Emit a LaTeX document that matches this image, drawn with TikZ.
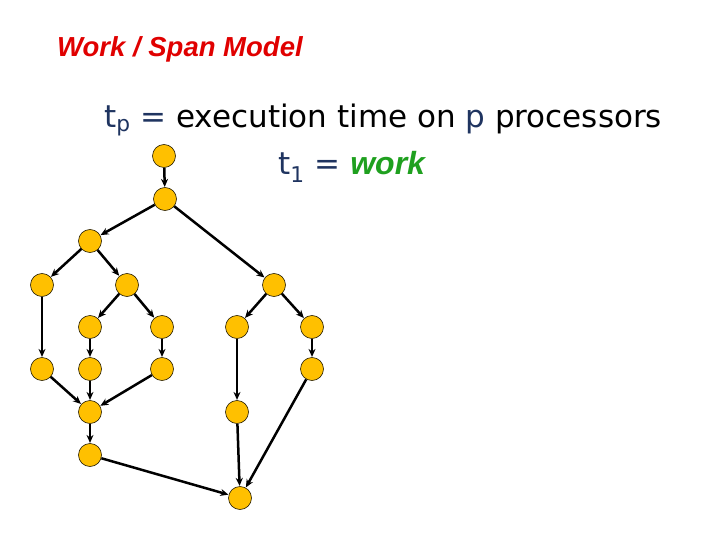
\documentclass[tikz,border=0pt]{standalone}
\usepackage{fontspec}
\setmainfont{Liberation Sans}
\newfontfamily\slidefont{DejaVu Sans}
\usetikzlibrary{arrows.meta}
\definecolor{taskfill}{HTML}{FFC000}
\definecolor{slidenavy}{HTML}{1F3460}
\definecolor{workgreen}{HTML}{1FA01F}
\definecolor{titlered}{HTML}{E00000}
\tikzset{
  task/.style={draw=black!85!taskfill, fill=taskfill, circle, line width=0.6pt,
    minimum size=23pt, inner sep=0pt},
  edge/.style={-{Stealth[length=8pt,width=7pt]}, line width=2.5pt, shorten >=0.3pt}
}
\begin{document}
\begin{tikzpicture}[x=1pt,y=-1pt]
    \useasboundingbox (0,0) rectangle (720,540);
    \node[anchor=base west, inner sep=0pt, text=titlered, font=\fontsize{27.5}{32}\selectfont\bfseries\itshape] (title) at (57,57) {Work / Span Model};
    \node[anchor=base west, inner sep=0pt, font=\slidefont\fontsize{31}{36}\selectfont] (tp) at (104,128)
        {\textcolor{slidenavy}{t\textsubscript{p} =} execution time on \textcolor{slidenavy}{p} processors};
    \node[anchor=base west, inner sep=0pt, font=\slidefont\fontsize{31}{36}\selectfont] (tone) at (278,175)
        {\textcolor{slidenavy}{t\textsubscript{1} =} \textcolor{workgreen}{\rmfamily\fontsize{32}{36}\selectfont\bfseries\itshape work}};
    \foreach \n/\x/\y in {a/164/156, b/165/199, c/90/241, d/42/285, e/127/285, f/274/285,
        g/90/327, h/162/327, i/237/327, j/312/327, k/42/369, l/90/369, m/162/369, n/312/369,
        q/90/412, o/237/412, r/90/455, p/240/498} {
        \node[task] (\n) at (\x,\y) {};
    }
    \foreach \s/\t in {a/b, b/c, b/f, c/d, c/e, e/g, e/h, f/i, f/j, d/k, g/l, h/m, j/n,
        k/q, l/q, m/q, q/r, i/o, o/p, n/p, r/p} {
        \draw[edge] (\s) -- (\t);
    }
\end{tikzpicture}
\end{document}
